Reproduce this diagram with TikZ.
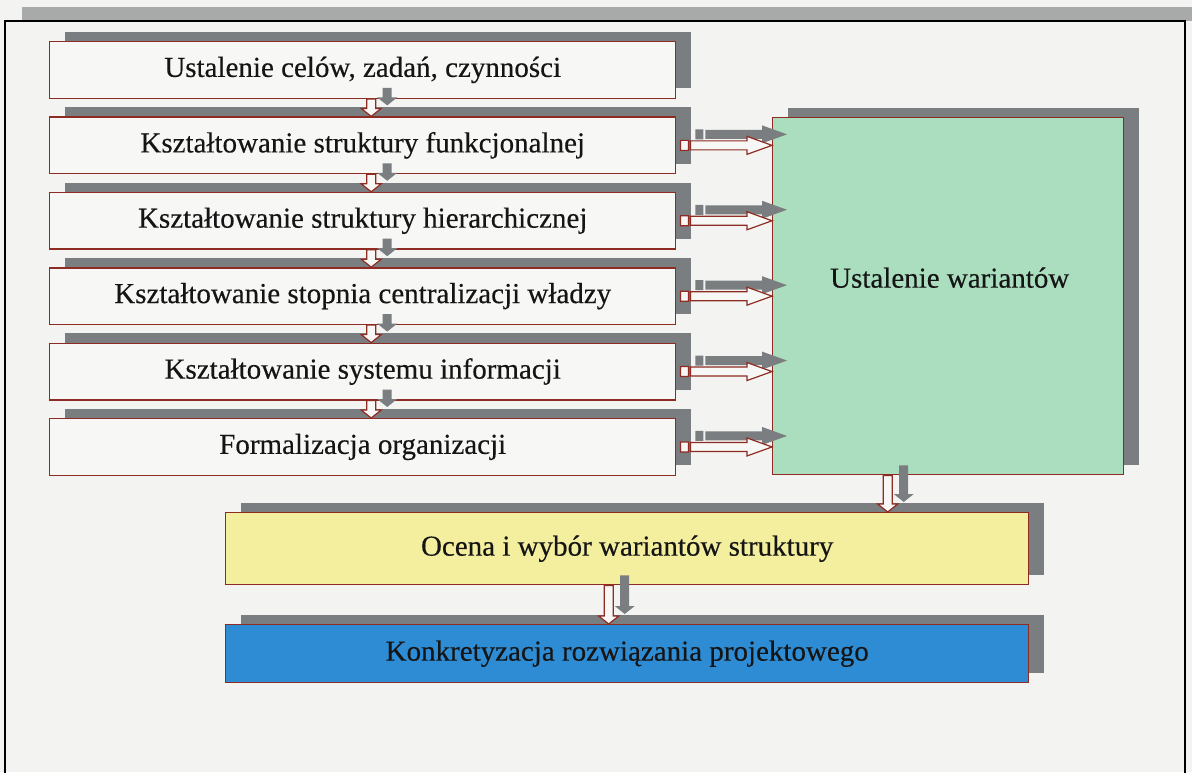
\documentclass[tikz,border=0pt]{standalone}
\usepackage{fontspec}
\setmainfont{Liberation Serif}[UprightFeatures={FakeBold=0.35}]
\usetikzlibrary{calc,shadows}

\definecolor{paper}{HTML}{F3F4F1}
\definecolor{boxwhite}{HTML}{F7F7F5}
\definecolor{bandgray}{HTML}{A8AAAA}
\definecolor{shadowgray}{HTML}{7A7E80}
\definecolor{boxred}{HTML}{8E2B22}
\definecolor{mint}{HTML}{AADEBF}
\definecolor{paleyellow}{HTML}{F4EE9F}
\definecolor{steelblue}{HTML}{2D8CD4}
\definecolor{inkblack}{HTML}{151515}

% block arrow pointing right: style, tail point, tip point, x offset, y offset (up)
\newcommand{\blockright}[5]{%
  \path[#1] let \p1=(#2), \p2=(#3) in
    (\x1+#4+4pt,\y1+#5+5pt) rectangle (\x1+#4+12pt,\y1+#5-5pt)
    (\x1+#4+14pt,\y1+#5+4.5pt) -- (\x2+#4-25pt,\y1+#5+4.5pt) -- (\x2+#4-25pt,\y1+#5+9pt)
    -- (\x2+#4,\y1+#5) -- (\x2+#4-25pt,\y1+#5-9pt) -- (\x2+#4-25pt,\y1+#5-4.5pt)
    -- (\x1+#4+14pt,\y1+#5-4.5pt) -- cycle;}

% block arrow pointing down: style, start point, end point, x offset, y offset (up)
\newcommand{\blockdown}[5]{%
  \path[#1] let \p1=(#2), \p2=(#3) in
    (\x1+#4-4.5pt,\y1+#5) -- (\x1+#4-4.5pt,\y2+#5+8pt) -- (\x1+#4-10pt,\y2+#5+8pt)
    -- (\x1+#4,\y2+#5) -- (\x1+#4+10pt,\y2+#5+8pt) -- (\x1+#4+4.5pt,\y2+#5+8pt)
    -- (\x1+#4+4.5pt,\y1+#5) -- cycle;}

\begin{document}
\begin{tikzpicture}[x=1pt,y=-1pt,
  txt/.style={font=\fontsize{29}{34}\selectfont, text=inkblack},
  stepbox/.style={draw=boxred, line width=1.4pt, anchor=north west, inner sep=0pt, txt,
    general shadow={fill=shadowgray, shadow xshift=15.5pt, shadow yshift=10pt}},
  leftbox/.style={stepbox, fill=boxwhite, minimum width=626pt, minimum height=56.5pt},
  wide/.style={stepbox, minimum width=803pt},
  arrowshadow/.style={fill=shadowgray},
  arrowfront/.style={draw=boxred, line width=1.2pt, fill=boxwhite}]

\clip (0,0) rectangle (1192,772);
\fill[paper] (0,0) rectangle (1192,772);

% outer frame with its top band
\fill[bandgray] (22,7) rectangle (1192,21);
\draw[black, line width=1.6pt] (5,21) rectangle (1185,800);

% design steps
\node[leftbox] (b1) at (49,41)    {Ustalenie celów, zadań, czynności};
\node[leftbox] (b2) at (49,116.4) {Kształtowanie struktury funkcjonalnej};
\node[leftbox] (b3) at (49,191.8) {Kształtowanie struktury hierarchicznej};
\node[leftbox] (b4) at (49,267.2) {Kształtowanie stopnia centralizacji władzy};
\node[leftbox] (b5) at (49,342.6) {Kształtowanie systemu informacji};
\node[leftbox] (b6) at (49,418)   {Formalizacja organizacji};

\node[stepbox, fill=mint, minimum width=351pt, minimum height=357pt] (g) at (772,117) {};
\node[txt] (gtext) at ($(g.center)+(1.5,-18.5)$) {Ustalenie wariantów};

\node[wide, fill=paleyellow, minimum height=72pt] (ocena) at (225,512)
  {Ocena i wybór wariantów struktury};
\node[wide, fill=steelblue, minimum height=58pt] (konkret) at (225,624)
  {Konkretyzacja rozwiązania projektowego};

% arrow shadows
\foreach \i/\j in {1/2,2/3,3/4,4/5,5/6} {
  \blockdown{arrowshadow}{$(b\i.south)+(8.5,0)$}{b\j.north}{16pt}{11pt}
}
\foreach \i in {2,...,6} {
  \blockright{arrowshadow}{b\i.east}{g.west}{15pt}{11pt}
}
\blockdown{arrowshadow}{$(g.south)+(-60.5,0)$}{ocena.north}{16pt}{10pt}
\blockdown{arrowshadow}{$(ocena.south)+(-18.5,0)$}{konkret.north}{16pt}{10pt}

% arrows
\foreach \i/\j in {1/2,2/3,3/4,4/5,5/6} {
  \blockdown{arrowfront}{$(b\i.south)+(8.5,0)$}{b\j.north}{0pt}{0pt}
}
\foreach \i in {2,...,6} {
  \blockright{arrowfront}{b\i.east}{g.west}{0pt}{0pt}
}
\blockdown{arrowfront}{$(g.south)+(-60.5,0)$}{ocena.north}{0pt}{0pt}
\blockdown{arrowfront}{$(ocena.south)+(-18.5,0)$}{konkret.north}{0pt}{0pt}

\end{tikzpicture}
\end{document}
